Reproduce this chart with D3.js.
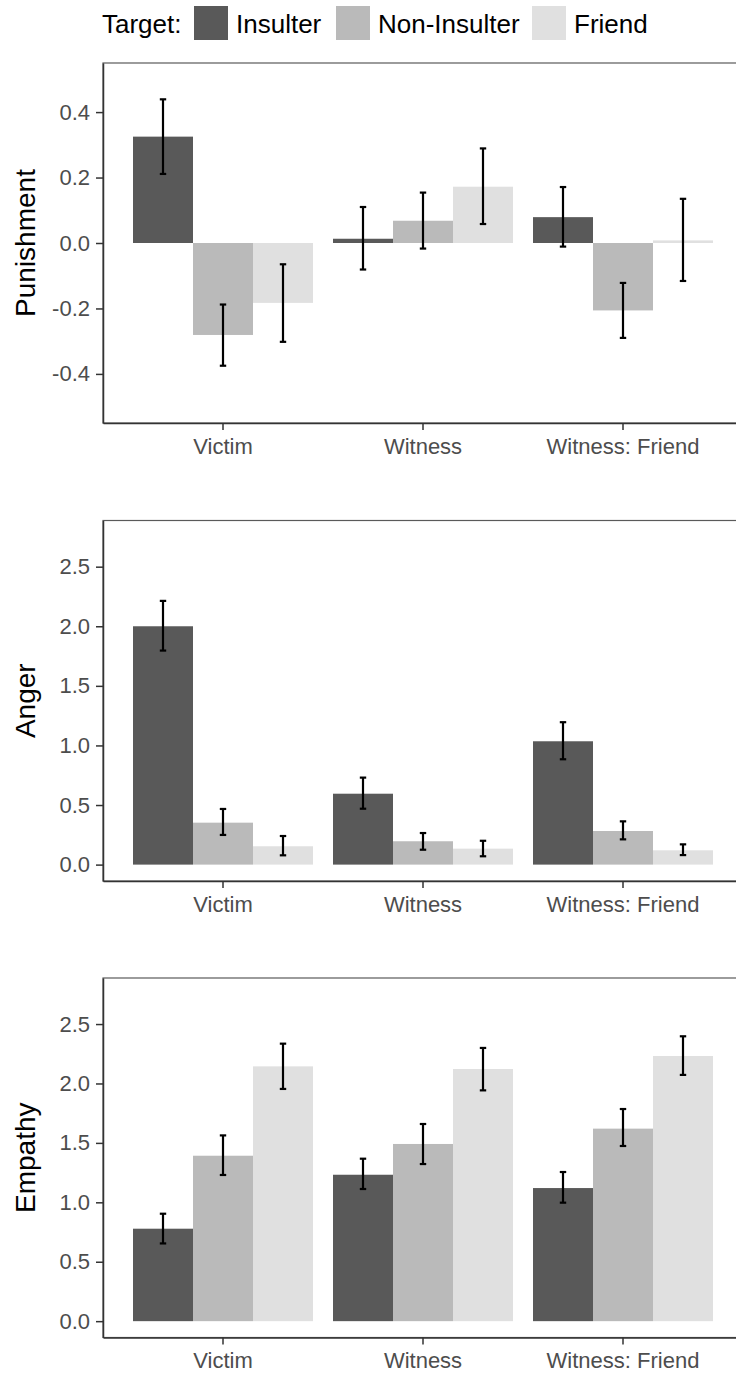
<!DOCTYPE html>
<html>
<head>
<meta charset="utf-8">
<script src="https://cdn.jsdelivr.net/npm/d3@7"></script>
<style>
  html, body { margin: 0; padding: 0; background: #ffffff; }
  svg { display: block; font-family: "Liberation Sans", Arial, sans-serif; }
</style>
</head>
<body>
<svg id="chart" width="736" height="1376"></svg>
<script>
// Roles of the person reacting, and which target the reaction is about
const roles = ["Victim", "Witness", "Witness: Friend"];
const targets = ["Insulter", "Non-Insulter", "Friend"];
const targetColors = ["#595959", "#bababa", "#e0e0e0"];

// Punishment: mean per role (rows) and target (columns), with error-bar bounds
const punishMean = [[0.325, -0.281, -0.183], [0.013, 0.068, 0.172], [0.079, -0.206, 0.008]];
const punishLow  = [[0.211, -0.375, -0.302], [-0.081, -0.017, 0.058], [-0.011, -0.290, -0.116]];
const punishHigh = [[0.439, -0.188, -0.065], [0.110, 0.154, 0.289], [0.171, -0.122, 0.135]];

// Anger
const angerMean = [[2.00, 0.352, 0.154], [0.595, 0.196, 0.134], [1.035, 0.282, 0.120]];
const angerLow  = [[1.796, 0.249, 0.078], [0.469, 0.125, 0.070], [0.884, 0.212, 0.080]];
const angerHigh = [[2.213, 0.467, 0.240], [0.730, 0.265, 0.200], [1.195, 0.363, 0.170]];

// Empathy
const empathyMean = [[0.778, 1.392, 2.144], [1.232, 1.491, 2.122], [1.120, 1.620, 2.231]];
const empathyLow  = [[0.654, 1.230, 1.954], [1.112, 1.322, 1.942], [0.997, 1.474, 2.072]];
const empathyHigh = [[0.904, 1.563, 2.335], [1.367, 1.659, 2.299], [1.255, 1.785, 2.397]];

// Axis tick values and their printed labels
const punishTicks = [-0.4, -0.2, 0, 0.2, 0.4];
const punishTickLabels = ["-0.4", "-0.2", "0.0", "0.2", "0.4"];
const scoreTicks = [0, 0.5, 1, 1.5, 2, 2.5];
const scoreTickLabels = ["0.0", "0.5", "1.0", "1.5", "2.0", "2.5"];

const svg = d3.select("#chart");
svg.append("rect").attr("width", 736).attr("height", 1376).attr("fill", "#ffffff");

const panelLeft = 103, panelRight = 743;

const x = d3.scaleBand().domain(roles).range([panelLeft, panelRight])
  .paddingInner(0.1).paddingOuter(0.15);
const xInner = d3.scaleBand().domain(targets).range([0, x.bandwidth()]).padding(0);
const fill = d3.scaleOrdinal().domain(targets).range(targetColors);

const panels = [
  { title: "Punishment", mean: punishMean, low: punishLow, high: punishHigh,
    domain: [-0.55, 0.55], ticks: punishTicks, labels: punishTickLabels, top: 63, bottom: 423 },
  { title: "Anger", mean: angerMean, low: angerLow, high: angerHigh,
    domain: [-0.1375, 2.8875], ticks: scoreTicks, labels: scoreTickLabels, top: 520.5, bottom: 881 },
  { title: "Empathy", mean: empathyMean, low: empathyLow, high: empathyHigh,
    domain: [-0.1375, 2.8875], ticks: scoreTicks, labels: scoreTickLabels, top: 978, bottom: 1337.5 }
];

panels.forEach(p => {
  const y = d3.scaleLinear().domain(p.domain).range([p.bottom, p.top]);
  const g = svg.append("g");

  // panel frame
  g.append("rect")
    .attr("x", panelLeft).attr("y", p.top)
    .attr("width", panelRight - panelLeft).attr("height", p.bottom - p.top)
    .attr("fill", "none").attr("stroke", "#5a5a5a").attr("stroke-width", 1.2);

  const rows = [];
  roles.forEach((r, i) => targets.forEach((t, j) => {
    rows.push({ role: r, target: t, mean: p.mean[i][j], low: p.low[i][j], high: p.high[i][j] });
  }));

  // bars
  g.selectAll("rect.bar").data(rows).join("rect")
    .attr("class", "bar")
    .attr("x", d => x(d.role) + xInner(d.target))
    .attr("width", xInner.bandwidth())
    .attr("y", d => y(Math.max(0, d.mean)))
    .attr("height", d => Math.abs(y(d.mean) - y(0)))
    .attr("fill", d => fill(d.target));

  // error bars
  const capHalf = 3.2;
  const eb = g.selectAll("g.err").data(rows).join("g").attr("class", "err")
    .attr("stroke", "#000000").attr("stroke-width", 2.2);
  const cx = d => x(d.role) + xInner(d.target) + xInner.bandwidth() / 2;
  eb.append("line").attr("x1", cx).attr("x2", cx)
    .attr("y1", d => y(d.low)).attr("y2", d => y(d.high));
  eb.append("line").attr("x1", d => cx(d) - capHalf).attr("x2", d => cx(d) + capHalf)
    .attr("y1", d => y(d.low)).attr("y2", d => y(d.low));
  eb.append("line").attr("x1", d => cx(d) - capHalf).attr("x2", d => cx(d) + capHalf)
    .attr("y1", d => y(d.high)).attr("y2", d => y(d.high));

  // y axis
  const yAxis = g.append("g").attr("transform", `translate(${panelLeft},0)`)
    .call(d3.axisLeft(y).tickValues(p.ticks)
      .tickFormat((d, i) => p.labels[i]).tickSize(7).tickSizeOuter(0).tickPadding(6));
  yAxis.select(".domain").attr("stroke", "#333333").attr("stroke-width", 1.5);
  yAxis.selectAll(".tick line").attr("stroke", "#333333").attr("stroke-width", 1.5);
  yAxis.selectAll(".tick text").attr("fill", "#4d4d4d")
    .style("font-size", "22px").style("font-family", "'Liberation Sans', Arial, sans-serif");

  // x axis
  const xAxis = g.append("g").attr("transform", `translate(0,${p.bottom})`)
    .call(d3.axisBottom(x).tickSize(7).tickPadding(8).tickSizeOuter(0));
  xAxis.select(".domain").attr("stroke", "#333333").attr("stroke-width", 1.5);
  xAxis.selectAll(".tick line").attr("stroke", "#333333").attr("stroke-width", 1.5);
  xAxis.selectAll(".tick text").attr("fill", "#4d4d4d")
    .style("font-size", "22px").style("font-family", "'Liberation Sans', Arial, sans-serif");

  // y axis title
  svg.append("text")
    .attr("transform", `translate(35,${(p.top + p.bottom) / 2}) rotate(-90)`)
    .attr("text-anchor", "middle")
    .attr("fill", "#000000")
    .style("font-size", "28px")
    .text(p.title);
});

// legend
const legend = svg.append("g");
legend.append("text").attr("x", 102).attr("y", 33)
  .style("font-size", "26px").attr("fill", "#000000").text("Target:");
const legendX = [194, 336, 532];
targets.forEach((t, i) => {
  legend.append("rect").attr("x", legendX[i]).attr("y", 6)
    .attr("width", 34).attr("height", 34).attr("fill", fill(t));
  legend.append("text").attr("x", legendX[i] + 42).attr("y", 33)
    .style("font-size", "26px").attr("fill", "#000000").text(t);
});
</script>
</body>
</html>
